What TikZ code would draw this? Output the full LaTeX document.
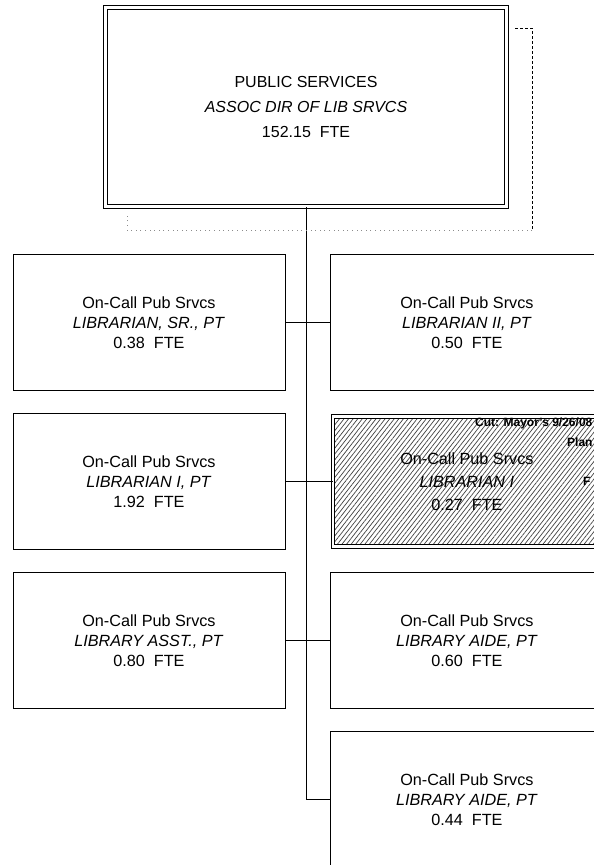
\documentclass[tikz,border=0pt]{standalone}
\usepackage{fontspec}
\setmainfont{Liberation Sans}
\usetikzlibrary{positioning,patterns.meta}

\begin{document}
\begin{tikzpicture}[
    x=1pt, y=-1pt,
    unitbox/.style={
        draw,
        rectangle,
        line width=0.9pt,
        minimum width=272pt,
        minimum height=136pt,
        inner sep=0pt,
        align=center,
        font=\fontsize{16.2}{20}\selectfont
    },
    headbox/.style={
        draw,
        rectangle,
        double,
        double distance=3pt,
        line width=0.9pt,
        minimum width=401pt,
        minimum height=199pt,
        inner sep=0pt,
        align=center,
        font=\fontsize{16}{25}\selectfont
    },
    cutbox/.style={
        unitbox,
        double,
        double distance=2.5pt,
        minimum width=268pt,
        minimum height=130pt,
        pattern={Lines[angle=52,distance=3.6pt,line width=0.7pt]},
        pattern color=black!75,
        font=\fontsize{16.2}{23}\selectfont
    },
    note/.style={
        anchor=west,
        inner sep=0pt,
        font=\fontsize{12}{13}\selectfont\bfseries
    },
    link/.style={
        line width=0.9pt
    },
    node distance=22pt and 45pt
]

\useasboundingbox (0,0) rectangle (594,865);
\clip (0,0) rectangle (594,865);

\node[headbox] (head) at (306,107)
    {PUBLIC SERVICES\\ \textit{ASSOC DIR OF LIB SRVCS}\\ 152.15\ \ FTE};

\node[unitbox] (l1) at (149,322.5)
    {On-Call Pub Srvcs\\ \textit{LIBRARIAN, SR., PT}\\ 0.38\ \ FTE};
\node[unitbox, below=of l1] (l2)
    {On-Call Pub Srvcs\\ \textit{LIBRARIAN I, PT}\\ 1.92\ \ FTE};
\node[unitbox, below=of l2] (l3)
    {On-Call Pub Srvcs\\ \textit{LIBRARY ASST., PT}\\ 0.80\ \ FTE};

\node[unitbox, right=of l1] (r1)
    {On-Call Pub Srvcs\\ \textit{LIBRARIAN II, PT}\\ 0.50\ \ FTE};
\node[cutbox] (r2) at (r1 |- l2)
    {On-Call Pub Srvcs\\ \textit{LIBRARIAN I}\\ 0.27\ \ FTE};
\node[unitbox] (r3) at (r1 |- l3)
    {On-Call Pub Srvcs\\ \textit{LIBRARY AIDE, PT}\\ 0.60\ \ FTE};
\node[unitbox, below=of r3] (r4)
    {On-Call Pub Srvcs\\ \textit{LIBRARY AIDE, PT}\\ 0.44\ \ FTE};

% note printed over the cut position
\node[note] (cutnote) at (475,423) {Cut: Mayor's 9/26/08};
\node[note] (plannote) at (567,442) {Plan};
\node[note] (fnote) at (583,481) {F};

% trunk and row links
\coordinate (trunkend) at (head.south |- r4.west);
\draw[link] (head.south) -- (trunkend) -- (r4.west);
\draw[link] (l1) -- (r1);
\draw[link] (l2) -- (r2);
\draw[link] (l3) -- (r3);

% faint bracket beside the head box
\coordinate (tagin) at (515,28);
\coordinate (tagtop) at (532,28);
\coordinate (tagbot) at (532,230);
\coordinate (tagleft) at (127,230);
\coordinate (tagend) at (127,213);
\draw[densely dashed, line width=0.6pt] (tagin) -- (tagtop) -- (tagbot);
\draw[loosely dotted, black!45, line width=0.6pt] (tagbot) -- (tagleft) -- (tagend);

\end{tikzpicture}
\end{document}
